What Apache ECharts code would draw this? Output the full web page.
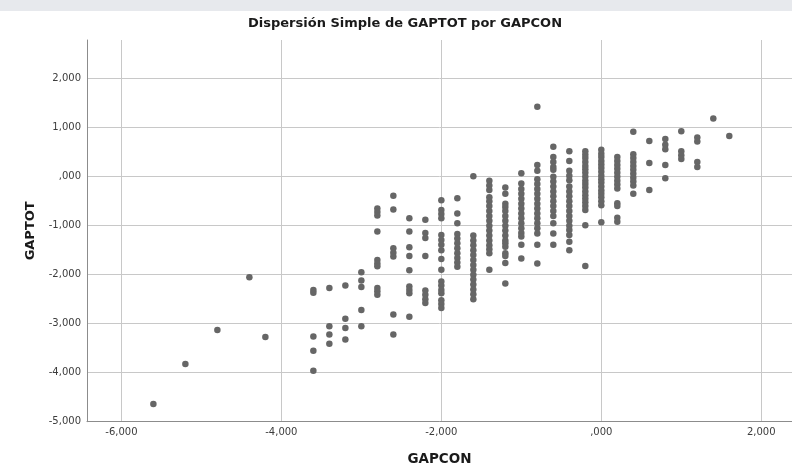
<!DOCTYPE html>
<html>
<head>
<meta charset="utf-8">
<script src="https://cdn.jsdelivr.net/npm/echarts@6/dist/echarts.min.js"></script>
<style>
html,body{margin:0;padding:0;background:#fff;}
#chart{width:792px;height:473px;}
</style>
</head>
<body>
<div id="chart"></div>
<script>
// GAPCON levels (x) and GAPTOT values observed at each level (y)
var gapconLevels = [-5.6, -5.2, -4.8, -4.4, -4.2, -3.6, -3.4, -3.2, -3.0, -2.8, -2.6, -2.4, -2.2, -2.0, -1.8, -1.6, -1.4, -1.2, -1.0, -0.8, -0.6, -0.4, -0.2, 0.0, 0.2, 0.4, 0.6, 0.8, 1.0, 1.2, 1.4, 1.6];
var gaptotByLevel = [
  [-4.64],
  [-3.82],
  [-3.13],
  [-2.05],
  [-3.27],
  [-2.31, -2.37, -3.26, -3.55, -3.96],
  [-2.27, -3.05, -3.22, -3.41],
  [-2.22, -2.90, -3.09, -3.32],
  [-1.95, -2.12, -2.25, -2.72, -3.05],
  [-0.65, -0.72, -0.79, -1.12, -1.70, -1.77, -1.83, -2.27, -2.34, -2.41],
  [-0.39, -0.67, -1.46, -1.55, -1.63, -2.81, -3.22],
  [-0.85, -1.12, -1.44, -1.62, -1.91, -2.24, -2.31, -2.38, -2.86],
  [-0.88, -1.15, -1.25, -1.62, -2.32, -2.41, -2.50, -2.58],
  [-0.48, -0.68, -0.76, -0.85, -1.19, -1.29, -1.39, -1.50, -1.68, -1.90, -2.14, -2.22, -2.31, -2.38, -2.52, -2.60, -2.68],
  [-0.44, -0.75, -0.95, -1.17, -1.26, -1.36, -1.46, -1.56, -1.66, -1.75, -1.84],
  [0.01, -1.20, -1.30, -1.40, -1.50, -1.60, -1.70, -1.80, -1.90, -2.00, -2.10, -2.20, -2.30, -2.40, -2.50],
  [-0.08, -0.18, -0.27, -0.42, -0.50, -0.60, -0.70, -0.80, -0.90, -1.00, -1.10, -1.20, -1.30, -1.40, -1.48, -1.56, -1.90],
  [-0.22, -0.35, -0.55, -0.62, -0.70, -0.80, -0.90, -1.00, -1.10, -1.20, -1.30, -1.36, -1.43, -1.56, -1.62, -1.76, -2.18],
  [0.07, -0.14, -0.25, -0.35, -0.45, -0.55, -0.65, -0.75, -0.85, -0.95, -1.05, -1.15, -1.22, -1.39, -1.67],
  [1.43, 0.24, 0.12, -0.05, -0.15, -0.25, -0.35, -0.45, -0.55, -0.65, -0.75, -0.85, -0.95, -1.05, -1.16, -1.39, -1.77],
  [0.61, 0.40, 0.30, 0.20, 0.14, 0.00, -0.10, -0.20, -0.30, -0.40, -0.50, -0.60, -0.70, -0.80, -0.95, -1.16, -1.39],
  [0.52, 0.32, 0.12, 0.02, -0.07, -0.20, -0.30, -0.40, -0.50, -0.60, -0.70, -0.80, -0.90, -1.00, -1.09, -1.19, -1.33, -1.50],
  [0.52, 0.45, 0.38, 0.30, 0.22, 0.15, 0.08, 0.00, -0.08, -0.15, -0.22, -0.30, -0.38, -0.45, -0.52, -0.60, -0.68, -0.99, -1.82],
  [0.55, 0.47, 0.40, 0.32, 0.25, 0.18, 0.10, 0.02, -0.05, -0.12, -0.20, -0.28, -0.35, -0.42, -0.50, -0.58, -0.93],
  [0.40, 0.32, 0.24, 0.16, 0.08, 0.00, -0.08, -0.16, -0.24, -0.54, -0.60, -0.84, -0.92],
  [0.92, 0.46, 0.38, 0.30, 0.22, 0.14, 0.06, -0.02, -0.10, -0.18, -0.35],
  [0.73, 0.28, -0.27],
  [0.77, 0.65, 0.56, 0.24, -0.03],
  [0.93, 0.52, 0.44, 0.36],
  [0.80, 0.72, 0.30, 0.20],
  [1.19],
  [0.83]
];
var xTicks = [-6, -4, -2, 0, 2];
var yTicks = [-5, -4, -3, -2, -1, 0, 1, 2];

var points = [];
gapconLevels.forEach(function (x, i) {
  gaptotByLevel[i].forEach(function (y) { points.push([x, y]); });
});

function fmt(v) {
  var s = Math.abs(v).toFixed(3).replace('.', ',');
  if (s.indexOf('0,') === 0) s = s.slice(1);
  return (v < 0 ? '-' : '') + s;
}

var FONT = 'DejaVu Sans';
var chart = echarts.init(document.getElementById('chart'), null, {renderer: 'canvas'});
chart.setOption({
  animation: false,
  backgroundColor: '#ffffff',
  graphic: [{
    type: 'rect', left: 0, top: 0, z: -10,
    shape: {width: 792, height: 11},
    style: {fill: '#e7e9ed'}
  }],
  title: {
    text: 'Dispersión Simple de GAPTOT por GAPCON',
    left: 248, top: 17, padding: 0,
    textStyle: {fontFamily: FONT, fontWeight: 'bold', fontSize: 13, color: '#1a1a1a'}
  },
  grid: {left: 87, top: 40, right: 0, bottom: 51.3, containLabel: false},
  xAxis: {
    type: 'value',
    min: -6.43, max: 2.384,
    name: 'GAPCON',
    nameLocation: 'middle',
    nameGap: 31,
    nameTextStyle: {fontFamily: FONT, fontWeight: 'bold', fontSize: 13.5, color: '#1a1a1a'},
    axisLine: {show: true, onZero: false, lineStyle: {color: '#8c8c8c', width: 1}},
    axisTick: {show: false, customValues: xTicks},
    axisLabel: {customValues: xTicks, formatter: fmt, fontFamily: FONT, fontSize: 10, color: '#3c3c3c', margin: 6},
    splitLine: {show: true, lineStyle: {color: '#c8c8c8', width: 1}}
  },
  yAxis: {
    type: 'value',
    min: -5, max: 2.79,
    name: 'GAPTOT',
    nameLocation: 'middle',
    nameRotate: 90,
    nameGap: 50,
    nameTextStyle: {fontFamily: FONT, fontWeight: 'bold', fontSize: 13, color: '#1a1a1a'},
    axisLine: {show: true, onZero: false, lineStyle: {color: '#8c8c8c', width: 1}},
    axisTick: {show: false, customValues: yTicks},
    axisLabel: {customValues: yTicks, formatter: fmt, fontFamily: FONT, fontSize: 10, color: '#3c3c3c', margin: 6},
    splitLine: {show: true, lineStyle: {color: '#c8c8c8', width: 1}}
  },
  series: [{
    type: 'scatter',
    data: points,
    symbol: 'circle',
    symbolSize: 6.5,
    itemStyle: {color: '#666666', opacity: 1}
  }]
});
</script>
</body>
</html>
